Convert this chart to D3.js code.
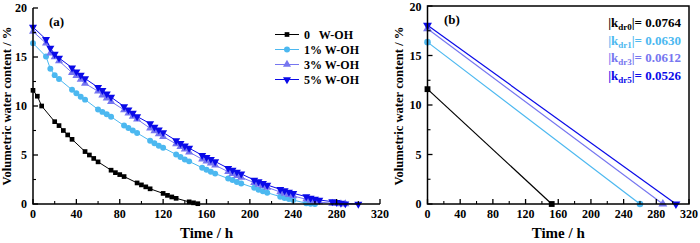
<!DOCTYPE html>
<html><head><meta charset="utf-8">
<script src="https://cdn.jsdelivr.net/npm/d3@7"></script>
<style>body{margin:0;background:#fff}svg{display:block}text{font-family:"Liberation Serif","Times New Roman",serif;font-weight:bold}</style>
</head><body><svg id="c" width="700" height="243"></svg>
<script>
const seriesNames = ["0   W-OH","1% W-OH","3% W-OH","5% W-OH"];
const seriesColors = ["#000000","#4cb8f0","#7676f0","#0a0ae8"];
const seriesSymbols = ["square","circle","up","down"];
const t0 = [0,4,8,20,24,28,32,36,48,52,56,60,72,76,80,84,96,100,104,108,120,124,128,132,144,148,152];
const v0 = [11.6,11.0,10.0,8.4,8.0,7.5,7.05,6.6,5.35,5.0,4.65,4.3,3.45,3.2,3.0,2.8,2.15,1.95,1.75,1.55,1.08,0.88,0.72,0.58,0.22,0.12,0.03];
const t1 = [0,12,16,20,24,36,40,44,48,60,64,68,72,84,88,92,96,108,112,116,120,132,136,140,144,156,160,164,168,180,184,188,192,204,208,212,216,228,232,236,240,252,256,260];
const v1 = [16.4,15.05,13.8,13.15,12.75,11.65,11.3,10.95,10.65,9.65,9.4,9.15,8.9,8.0,7.75,7.5,7.25,6.45,6.2,5.95,5.75,5.05,4.8,4.55,4.35,3.7,3.5,3.3,3.1,2.6,2.45,2.25,2.1,1.65,1.45,1.3,1.15,0.75,0.6,0.5,0.4,0.08,0.03,0.0];
const t3 = [0,12,16,20,24,36,40,44,48,60,64,68,72,84,88,92,96,108,112,116,120,132,136,140,144,156,160,164,168,180,184,188,192,204,208,212,216,228,232,236,240,252,256,260,264,276,280,284,288];
const v3 = [17.6,16.4,15.4,15.0,14.6,13.4,13.1,12.7,12.3,11.5,11.1,10.8,10.45,9.6,9.27,8.93,8.65,7.73,7.46,7.15,6.88,6.13,5.86,5.59,5.3,4.57,4.36,4.16,3.95,3.3,3.1,2.9,2.72,2.18,2.0,1.84,1.7,1.22,1.09,0.95,0.82,0.48,0.37,0.27,0.2,0.07,0.03,0.01,0.0];
const t5 = [0,12,16,20,24,36,40,44,48,60,64,68,72,84,88,92,96,108,112,116,120,132,136,140,144,156,160,164,168,180,184,188,192,204,208,212,216,228,232,236,240,252,256,260,264,276,280,284,288,300];
const v5 = [18.05,16.8,15.9,15.3,14.9,13.9,13.5,13.15,12.8,11.9,11.6,11.25,10.9,9.95,9.6,9.27,8.93,8.2,7.84,7.56,7.3,6.47,6.2,5.93,5.7,4.97,4.77,4.57,4.33,3.65,3.47,3.27,3.07,2.45,2.28,2.1,1.94,1.5,1.36,1.23,1.09,0.75,0.61,0.51,0.41,0.24,0.17,0.1,0.03,0.0];
// panel (b): linear fits, start value and end time
const fitStart = [11.6,16.35,17.7,18.05];
const fitEnd = [152,260,288,304];
const kLabels = ["0","1","3","5"];
const kValues = ["0.0764","0.0630","0.0612","0.0526"];
const xTicks = [0,40,80,120,160,200,240,280,320];
const yTicks = [0,5,10,15,20];

const svg = d3.select("#c");
const series = [[t0,v0],[t1,v1],[t3,v3],[t5,v5]];

function sym(kind, size){
  if(kind==="square") return d3.symbol(d3.symbolSquare, size)();
  if(kind==="circle") return d3.symbol(d3.symbolCircle, size)();
  return d3.symbol(d3.symbolTriangle, size)();
}
function drawMarker(g, kind, x, y, color, size){
  g.append("path").attr("d", sym(kind,size))
   .attr("transform", `translate(${x},${y})` + (kind==="down"?" rotate(180)":""))
   .attr("fill", color);
}

function axes(g, x, y, framed, titleOff){
  const [x0,x1] = x.range(), [y0,y1] = y.range();
  const xmin = d3.range(20,320,40), ymin = d3.range(2.5,20,5);
  xTicks.forEach(v=>{ g.append("line").attr("x1",x(v)).attr("x2",x(v)).attr("y1",y0).attr("y2",y0-5).attr("stroke","#000").attr("stroke-width",1.3);
    g.append("text").attr("x",x(v)).attr("y",y0+14).attr("text-anchor","middle").attr("font-size",12).text(v); });
  xmin.forEach(v=>g.append("line").attr("x1",x(v)).attr("x2",x(v)).attr("y1",y0).attr("y2",y0-3).attr("stroke","#000").attr("stroke-width",1.1));
  yTicks.forEach(v=>{ g.append("line").attr("x1",x0).attr("x2",x0+5).attr("y1",y(v)).attr("y2",y(v)).attr("stroke","#000").attr("stroke-width",1.3);
    g.append("text").attr("x",x0-6).attr("y",Math.max(y(v)+4,11)).attr("text-anchor","end").attr("font-size",12).text(v); });
  ymin.forEach(v=>g.append("line").attr("x1",x0).attr("x2",x0+3).attr("y1",y(v)).attr("y2",y(v)).attr("stroke","#000").attr("stroke-width",1.1));
  if(framed){
    g.append("rect").attr("x",x0).attr("y",y1).attr("width",x1-x0).attr("height",y0-y1).attr("fill","none").attr("stroke","#000").attr("stroke-width",1.5);
  } else {
    g.append("path").attr("d",`M${x0},${y1}V${y0}H${x1}`).attr("fill","none").attr("stroke","#000").attr("stroke-width",1.5);
  }
  g.append("text").attr("x",(x0+x1)/2).attr("y",238).attr("text-anchor","middle").attr("font-size",15).text("Time / h");
  g.append("text").attr("transform",`translate(${x0-titleOff},106) rotate(-90)`).attr("text-anchor","middle").attr("font-size",12.6).text("Volumetric water content / %");
}

// Panel (a)
const xa = d3.scaleLinear().domain([0,320]).range([33,380]);
const ya = d3.scaleLinear().domain([0,20]).range([204,8]);
const ga = svg.append("g");
series.forEach(([ts,vs],i)=>{
  const pts = ts.map((t,j)=>[t,vs[j]]);
  ga.append("path").attr("d", d3.line().x(d=>xa(d[0])).y(d=>ya(d[1]))(pts))
    .attr("fill","none").attr("stroke",seriesColors[i]).attr("stroke-width",1);
  pts.forEach(d=>drawMarker(ga, seriesSymbols[i], xa(d[0]), ya(d[1]), seriesColors[i], i===0?22:28));
});
axes(ga, xa, ya, false, 22);
ga.append("text").attr("x",49).attr("y",26).attr("font-size",13).text("(a)");
seriesNames.forEach((n,i)=>{
  const yy = 34.5 + i*15;
  ga.append("line").attr("x1",275).attr("x2",299).attr("y1",yy).attr("y2",yy).attr("stroke",seriesColors[i]).attr("stroke-width",1);
  drawMarker(ga, seriesSymbols[i], 287, yy, seriesColors[i], i===0?22:28);
  ga.append("text").attr("x",304).attr("y",yy+4).attr("font-size",12).style("white-space","pre").text(n);
});

// Panel (b)
const xb = d3.scaleLinear().domain([0,320]).range([427.5,689]);
const yb = d3.scaleLinear().domain([0,20]).range([204,6]);
const gb = svg.append("g");
fitStart.forEach((v,i)=>{
  gb.append("line").attr("x1",xb(0)).attr("y1",yb(v)).attr("x2",xb(fitEnd[i])).attr("y2",yb(0))
    .attr("stroke",seriesColors[i]).attr("stroke-width",1.2);
});
fitStart.forEach((v,i)=>{
  drawMarker(gb, seriesSymbols[i], xb(0), yb(v), seriesColors[i], 34);
  drawMarker(gb, seriesSymbols[i], xb(fitEnd[i]), yb(0), seriesColors[i], 34);
});
axes(gb, xb, yb, true, 25);
gb.append("text").attr("x",444).attr("y",24).attr("font-size",13).text("(b)");
kLabels.forEach((k,i)=>{
  const t = gb.append("text").attr("x",681).attr("y",27+i*17.5).attr("text-anchor","end").attr("font-size",13).attr("fill",seriesColors[i]);
  t.append("tspan").text("|k");
  t.append("tspan").attr("font-size",9).attr("dy",3).text("dr"+k);
  t.append("tspan").attr("dy",-3).text("|= "+kValues[i]);
});
</script></body></html>
